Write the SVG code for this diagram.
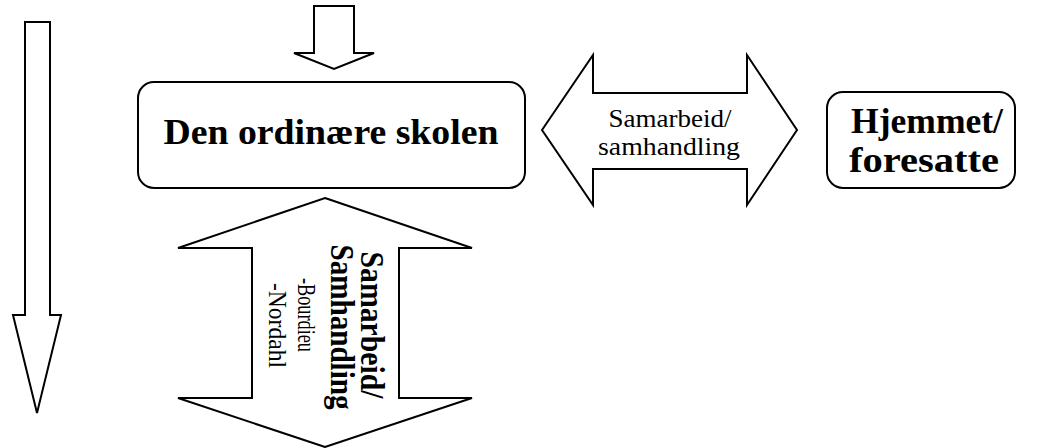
<svg xmlns="http://www.w3.org/2000/svg" width="1038" height="448" viewBox="0 0 1038 448">
<style>
.sh{fill:#fff;stroke:#000;stroke-width:2;stroke-linejoin:miter}
.bx{fill:#fff;stroke:#000;stroke-width:2}
.b{font-family:"Liberation Serif","Times New Roman",serif;font-weight:bold;fill:#000}
.r{font-family:"Liberation Serif","Times New Roman",serif;fill:#000}
</style>
<rect width="1038" height="448" fill="#fff"/>
<g id="connectors">
<polygon id="left-arrow" class="sh" points="25,22 50,22 50,315 61,315 37,413 13,315 25,315"/>
<polygon id="top-arrow" class="sh" points="314,6 354,6 354,53 374,53 334,69 294,53 314,53"/>
<g id="h-double-arrow">
<polygon class="sh" points="542,130 593,55 593,93 747,93 747,55 797,130 747,205 747,169 593,169 593,205"/>
<text class="r" x="670" y="127" font-size="25" text-anchor="middle" textLength="123" lengthAdjust="spacingAndGlyphs">Samarbeid/</text>
<text class="r" x="669" y="155" font-size="25" text-anchor="middle" textLength="142" lengthAdjust="spacingAndGlyphs">samhandling</text>
</g>
<g id="v-double-arrow">
<polygon class="sh" points="325,198 472,248 399,248 399,398 472,398 325,447 178,398 252,398 252,248 178,248"/>
<text class="b" font-size="29" text-anchor="middle" transform="translate(361,325) rotate(90) scale(1,1.14)" textLength="147" lengthAdjust="spacingAndGlyphs">Samarbeid/</text>
<text class="b" font-size="29" text-anchor="middle" transform="translate(331,327) rotate(90) scale(1,1.14)" textLength="165" lengthAdjust="spacingAndGlyphs">Samhandling</text>
<text class="r" font-size="20" transform="translate(298,278) rotate(90) scale(1,1.3)" textLength="74" lengthAdjust="spacingAndGlyphs">-Bourdieu</text>
<text class="r" font-size="20" transform="translate(269,283) rotate(90) scale(1,1.3)" textLength="85" lengthAdjust="spacingAndGlyphs">-Nordahl</text>
</g>
</g>
<g id="den-ordinaere-skolen">
<rect class="bx" x="138" y="82" width="387" height="106" rx="16"/>
<text class="b" x="331" y="144" font-size="36" text-anchor="middle" textLength="335" lengthAdjust="spacingAndGlyphs">Den ordinære skolen</text>
</g>
<g id="hjemmet-foresatte">
<rect class="bx" x="827" y="92" width="188" height="96" rx="16"/>
<text class="b" x="851" y="133" font-size="36" textLength="152" lengthAdjust="spacingAndGlyphs">Hjemmet/</text>
<text class="b" x="849" y="172" font-size="36" textLength="150" lengthAdjust="spacingAndGlyphs">foresatte</text>
</g>
</svg>
